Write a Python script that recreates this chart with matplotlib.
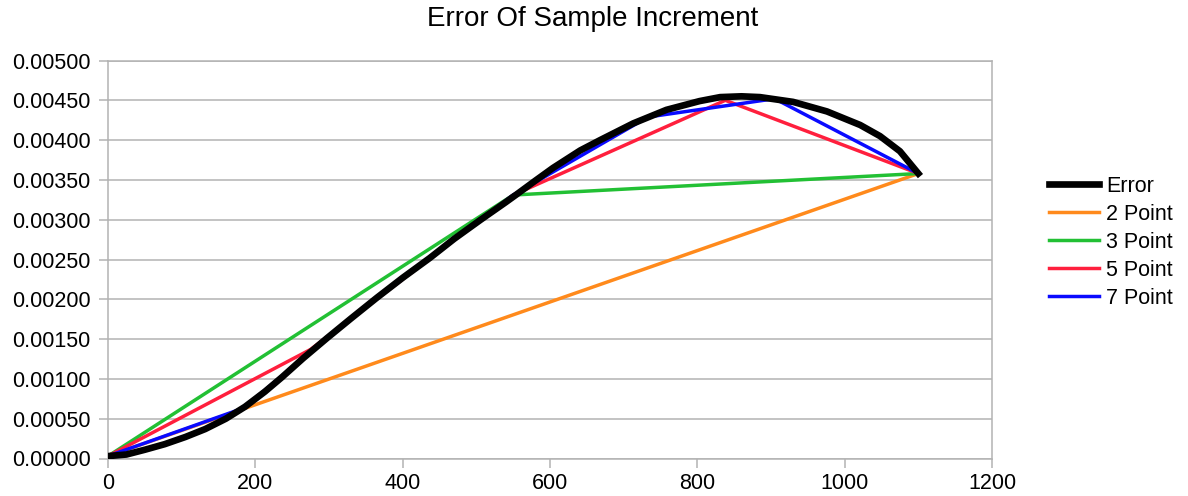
import matplotlib
matplotlib.use("Agg")
import matplotlib.pyplot as plt
from matplotlib.ticker import FormatStrFormatter, MultipleLocator

plt.rcParams['font.family'] = ['Liberation Sans', 'DejaVu Sans']

title = "Error Of Sample Increment"

err_x = [0, 25, 50, 77, 105, 132, 160, 186, 213, 236, 265, 297, 330, 365, 400,
         437, 470, 506, 540, 555, 580, 604, 641, 668, 713, 758, 803, 831, 860,
         885, 930, 976, 1021, 1048, 1075, 1100]
err_y = [0.00003, 0.00005, 0.00011, 0.00018, 0.00027, 0.00037, 0.00050, 0.00065,
         0.00084, 0.00102, 0.00126, 0.00151, 0.00176, 0.00202, 0.00227, 0.00252,
         0.00276, 0.00300, 0.00322, 0.00332, 0.00349, 0.00365, 0.00387, 0.00400,
         0.00421, 0.00438, 0.00449, 0.00454, 0.00455, 0.00454, 0.00448, 0.00436,
         0.00419, 0.00405, 0.00386, 0.00358]

p2_x = [0, 1100]
p2_y = [0.00003, 0.00358]

p3_x = [0, 550, 1100]
p3_y = [0.00003, 0.00331, 0.00358]

p5_x = [0, 275, 550, 838, 1100]
p5_y = [0.00003, 0.00137, 0.00331, 0.00450, 0.00358]

p7_x = [0, 183, 367, 550, 733, 905, 1100]
p7_y = [0.00003, 0.00063, 0.00204, 0.00331, 0.00429, 0.00452, 0.00358]

x_ticks = [0, 200, 400, 600, 800, 1000, 1200]

fig = plt.figure(figsize=(11.88, 4.96), dpi=100)
ax = fig.add_axes([108/1188, 1 - 458.5/496, (992-108)/1188, (458.5-60.5)/496])

grid_c = '#b3b3b3'
l_err, = ax.plot(err_x, err_y, color='black', lw=4.8, zorder=6, label='Error',
                 solid_joinstyle='round')
l2, = ax.plot(p2_x, p2_y, color='#ff8a1c', lw=2.5, zorder=3, label='2 Point')
l3, = ax.plot(p3_x, p3_y, color='#22c034', lw=2.5, zorder=3, label='3 Point')
l5, = ax.plot(p5_x, p5_y, color='#ff1f3d', lw=2.5, zorder=4, label='5 Point')
l7, = ax.plot(p7_x, p7_y, color='#0a0aff', lw=2.5, zorder=5, label='7 Point')

ax.set_xlim(0, 1200)
ax.set_ylim(0, 0.005)
ax.set_xticks(x_ticks)
ax.yaxis.set_major_locator(MultipleLocator(0.0005))
ax.yaxis.set_major_formatter(FormatStrFormatter('%.5f'))
ax.grid(axis='y', color=grid_c, lw=1.1)
ax.set_axisbelow(True)
for s in ax.spines.values():
    s.set_color(grid_c)
    s.set_linewidth(1.1)
ax.tick_params(axis='both', direction='out', length=6.5, width=1.1, color=grid_c,
               labelsize=15.5, labelcolor='black')
ax.tick_params(axis='y', pad=6)
ax.tick_params(axis='x', pad=4)

ax.set_title(title, fontsize=20, pad=24.5, x=(593-108)/(992-108))

leg = fig.legend(handles=[l_err, l2, l3, l5, l7], loc='upper left',
                 bbox_to_anchor=(1049/1188, 1 - 176/496), frameon=False,
                 fontsize=15.5, handlelength=2.3, handletextpad=0.35,
                 labelspacing=0.32, borderaxespad=0, borderpad=0)

fig.savefig('out.png', dpi=100)
